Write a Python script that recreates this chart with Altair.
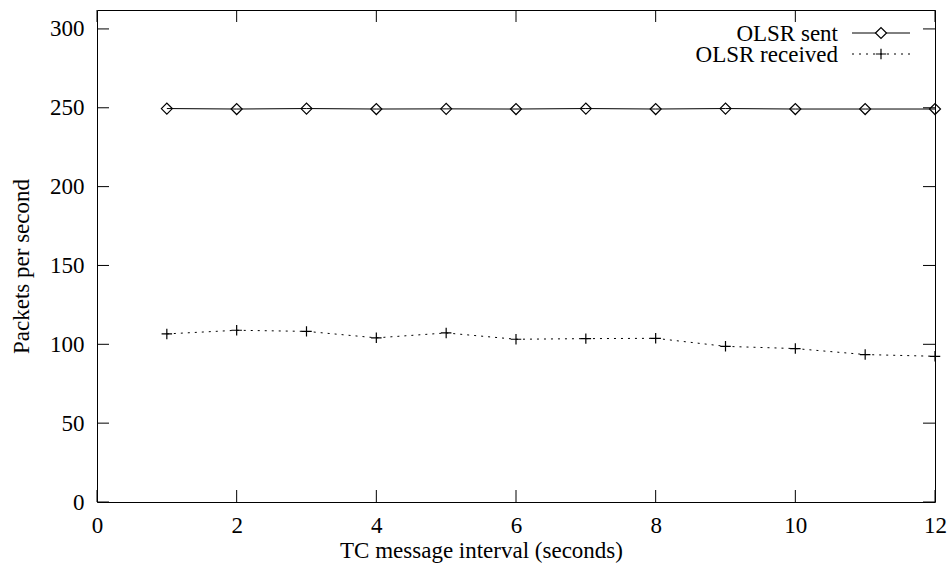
import altair as alt
import pandas as pd

# ---- data ----
intervals = [1, 2, 3, 4, 5, 6, 7, 8, 9, 10, 11, 12]
olsr_sent = [249.5, 249.2, 249.5, 249.2, 249.3, 249.2, 249.5, 249.2, 249.5, 249.2, 249.2, 249.2]
olsr_received = [106.6, 108.9, 108.2, 104.1, 107.2, 103.2, 103.6, 103.8, 98.7, 97.3, 93.5, 92.4]
series_names = ["OLSR sent", "OLSR received"]
x_ticks = [0, 2, 4, 6, 8, 10, 12]
y_ticks = [0, 50, 100, 150, 200, 250, 300]
x_title = "TC message interval (seconds)"
y_title = "Packets per second"

W, H = 838, 492
FONT = "Liberation Serif"
FS = 23

df = pd.DataFrame({
    "interval": intervals * 2,
    "value": olsr_sent + olsr_received,
    "series": [series_names[0]] * len(intervals) + [series_names[1]] * len(intervals),
})
xt = pd.DataFrame({"v": x_ticks})
yt = pd.DataFrame({"v": y_ticks})
leg = pd.DataFrame({"label": series_names})

xscale = alt.Scale(domain=[0, 12], nice=False, zero=False)
yscale = alt.Scale(domain=[0, 312], nice=False, zero=False)

xaxis = alt.Axis(values=x_ticks, title=x_title, labelFlush=False, labelPadding=12,
                 titleX=384, titleY=55, titleAlign="center", titleBaseline="alphabetic")
yaxis = alt.Axis(values=y_ticks, title=y_title, labelFlush=False, labelPadding=13,
                 titleX=-69, titleY=256, titleAngle=270, titleAlign="center",
                 titleBaseline="alphabetic")


def X(field):
    return alt.X(field, scale=xscale, axis=xaxis, title=x_title)


def Y(field):
    return alt.Y(field, scale=yscale, axis=yaxis, title=y_title)


base = alt.Chart(df)

sent_line = base.transform_filter(alt.datum.series == series_names[0]).mark_line(
    color="black", strokeWidth=1
).encode(x=X("interval:Q"), y=Y("value:Q"))
recv_line = base.transform_filter(alt.datum.series == series_names[1]).mark_line(
    color="black", strokeWidth=1, strokeDash=[2, 5]
).encode(x=X("interval:Q"), y=Y("value:Q"))
PLUS = "M-1,0L1,0M0,-1L0,1"
sent_pts = base.transform_filter(alt.datum.series == series_names[0]).mark_point(
    shape="diamond", filled=False, color="black", size=121, strokeWidth=1.2, opacity=1
).encode(x=X("interval:Q"), y=Y("value:Q"))
recv_pts = base.transform_filter(alt.datum.series == series_names[1]).mark_point(
    shape=PLUS, filled=False, color="black", size=110, strokeWidth=1.2, opacity=1
).encode(x=X("interval:Q"), y=Y("value:Q"))

# inward mirrored ticks (gnuplot style)
TL = 12
tick_style = dict(color="black", strokeWidth=1)
xt_bottom = alt.Chart(xt).mark_rule(**tick_style).encode(
    x=X("v:Q"), y=alt.value(H), y2=alt.value(H - TL))
xt_top = alt.Chart(xt).mark_rule(**tick_style).encode(
    x=X("v:Q"), y=alt.value(0), y2=alt.value(TL))
yt_left = alt.Chart(yt).mark_rule(**tick_style).encode(
    y=Y("v:Q"), x=alt.value(0), x2=alt.value(TL))
yt_right = alt.Chart(yt).mark_rule(**tick_style).encode(
    y=Y("v:Q"), x=alt.value(W), x2=alt.value(W - TL))

# legend (top right, gnuplot style)
leg_sent = alt.Chart(leg).transform_filter(alt.datum.label == series_names[0])
leg_recv = alt.Chart(leg).transform_filter(alt.datum.label == series_names[1])
LX_TEXT, LX1, LX2, LXM = 741, 755, 813, 784
LY1, LY2 = 23, 44
leg_layers = [
    leg_sent.mark_text(align="right", baseline="middle", font=FONT, fontSize=FS, color="black").encode(
        text="label:N", x=alt.value(LX_TEXT), y=alt.value(LY1 + 1)),
    leg_recv.mark_text(align="right", baseline="middle", font=FONT, fontSize=FS, color="black").encode(
        text="label:N", x=alt.value(LX_TEXT), y=alt.value(LY2 + 1)),
    leg_sent.mark_rule(color="black", strokeWidth=1).encode(
        x=alt.value(LX1), x2=alt.value(LX2), y=alt.value(LY1)),
    leg_recv.mark_rule(color="black", strokeWidth=1, strokeDash=[2, 5]).encode(
        x=alt.value(LX1), x2=alt.value(LX2), y=alt.value(LY2)),
    leg_sent.mark_point(shape="diamond", filled=False, color="black", size=121, strokeWidth=1.2,
                        opacity=1, fill="white").encode(x=alt.value(LXM), y=alt.value(LY1)),
    leg_recv.mark_point(shape=PLUS, filled=False, color="black", size=110, strokeWidth=1.2,
                        opacity=1).encode(x=alt.value(LXM), y=alt.value(LY2)),
]

chart = alt.layer(
    sent_line, recv_line, sent_pts, recv_pts,
    xt_bottom, xt_top, yt_left, yt_right,
    *leg_layers
).properties(
    width=W, height=H,
    autosize=alt.AutoSizeParams(type="none"),
    padding={"left": 97, "top": 10, "right": 17, "bottom": 69},
    background="white",
).configure_view(
    stroke="black", strokeWidth=1
).configure_axis(
    grid=False, domain=False, ticks=False,
    labelFont=FONT, labelFontSize=FS, labelColor="black",
    titleFont=FONT, titleFontSize=FS, titleColor="black", titleFontWeight="normal",
    labelOverlap=False,
)

chart.save("out.html", embed_options={"renderer": "svg", "actions": False})
